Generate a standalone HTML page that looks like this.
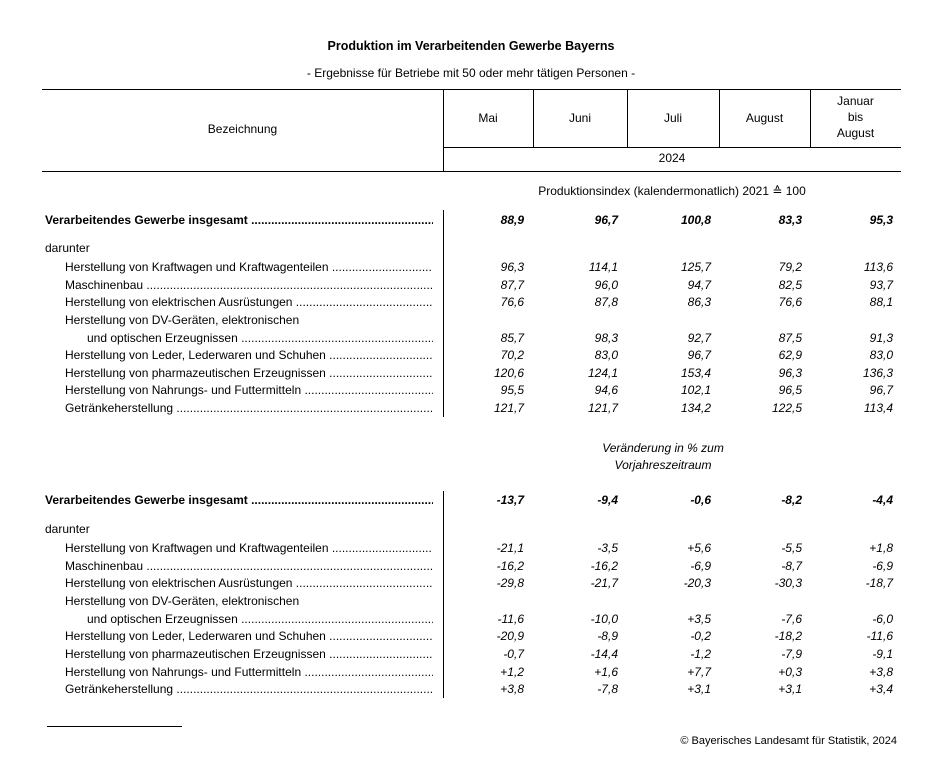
<!DOCTYPE html>
<html><head><meta charset="utf-8"><style>
body{margin:0;width:929px;height:775px;background:#fff;position:relative;font-family:"Liberation Sans",Arial,sans-serif;font-size:12px;color:#000;overflow:hidden}
.a{position:absolute;white-space:nowrap;line-height:16px;height:16px}
.l{position:absolute;background:#000}
.c{text-align:center}
.lab{overflow:hidden}
.n{position:absolute;width:80px;text-align:right;font-style:italic;line-height:16px;height:16px}
.b{font-weight:bold}
</style></head><body>
<div class="a c b" style="left:0;width:942px;top:38px;font-size:12.5px">Produktion im Verarbeitenden Gewerbe Bayerns</div>
<div class="a c" style="left:0;width:942px;top:65px">- Ergebnisse für Betriebe mit 50 oder mehr tätigen Personen -</div>

<div class="l" style="left:42px;top:89px;width:859px;height:1px"></div>
<div class="l" style="left:443px;top:89px;width:1px;height:82px"></div>
<div class="l" style="left:533px;top:89px;width:1px;height:58px"></div>
<div class="l" style="left:627px;top:89px;width:1px;height:58px"></div>
<div class="l" style="left:719px;top:89px;width:1px;height:58px"></div>
<div class="l" style="left:810px;top:89px;width:1px;height:58px"></div>
<div class="l" style="left:443px;top:147px;width:458px;height:1px"></div>
<div class="l" style="left:42px;top:171px;width:859px;height:1px"></div>
<div class="l" style="left:443px;top:210px;width:1px;height:207px"></div>
<div class="l" style="left:443px;top:491px;width:1px;height:207px"></div>
<div class="l" style="left:47px;top:726px;width:135px;height:1px"></div>

<div class="a c" style="left:42px;width:401px;top:121px">Bezeichnung</div>
<div class="a c" style="left:443px;width:90px;top:110px">Mai</div>
<div class="a c" style="left:533px;width:94px;top:110px">Juni</div>
<div class="a c" style="left:627px;width:92px;top:110px">Juli</div>
<div class="a c" style="left:719px;width:91px;top:110px">August</div>
<div class="a c" style="left:810px;width:91px;top:93px">Januar</div>
<div class="a c" style="left:810px;width:91px;top:109px">bis</div>
<div class="a c" style="left:810px;width:91px;top:125px">August</div>
<div class="a c" style="left:443px;width:458px;top:150px">2024</div>
<div class="a c" style="left:443px;width:458px;top:183px">Produktionsindex (kalendermonatlich) 2021 ≙ 100</div>
<div class="a c" style="left:443px;width:440px;top:440px;font-style:italic">Veränderung in % zum</div>
<div class="a c" style="left:443px;width:440px;top:457px;font-style:italic">Vorjahreszeitraum</div>
<div class="a" style="right:32px;top:733px;font-size:11px">© Bayerisches Landesamt für Statistik, 2024</div>

<div id="rows"></div>
<script>
var dots=" ........................................................................................................................................................";
var labels=[
["Verarbeitendes Gewerbe insgesamt",45,1,1],
["darunter",45,0,0],
["Herstellung von Kraftwagen und Kraftwagenteilen",65,0,1],
["Maschinenbau",65,0,1],
["Herstellung von elektrischen Ausrüstungen",65,0,1],
["Herstellung von DV-Geräten, elektronischen",65,0,0],
["und optischen Erzeugnissen",87,0,1],
["Herstellung von Leder, Lederwaren und Schuhen",65,0,1],
["Herstellung von pharmazeutischen Erzeugnissen",65,0,1],
["Herstellung von Nahrungs- und Futtermitteln",65,0,1],
["Getränkeherstellung",65,0,1]];
var y1=[220,248,267,285,302,320,338,355,373,390,408];
var y2=[500,529,548,566,583,601,619,636,654,672,689];
var d1=[["88,9","96,7","100,8","83,3","95,3"],null,["96,3","114,1","125,7","79,2","113,6"],["87,7","96,0","94,7","82,5","93,7"],["76,6","87,8","86,3","76,6","88,1"],null,["85,7","98,3","92,7","87,5","91,3"],["70,2","83,0","96,7","62,9","83,0"],["120,6","124,1","153,4","96,3","136,3"],["95,5","94,6","102,1","96,5","96,7"],["121,7","121,7","134,2","122,5","113,4"]];
var d2=[["-13,7","-9,4","-0,6","-8,2","-4,4"],null,["-21,1","-3,5","+5,6","-5,5","+1,8"],["-16,2","-16,2","-6,9","-8,7","-6,9"],["-29,8","-21,7","-20,3","-30,3","-18,7"],null,["-11,6","-10,0","+3,5","-7,6","-6,0"],["-20,9","-8,9","-0,2","-18,2","-11,6"],["-0,7","-14,4","-1,2","-7,9","-9,1"],["+1,2","+1,6","+7,7","+0,3","+3,8"],["+3,8","-7,8","+3,1","+3,1","+3,4"]];
var rx=[524,618,711,802,893];
var h="";
[[y1,d1],[y2,d2]].forEach(function(blk){
 labels.forEach(function(L,i){
  var y=blk[0][i]-8;
  h+='<div class="a lab'+(L[2]?' b':'')+'" style="left:'+L[1]+'px;top:'+y+'px;width:'+(433-L[1])+'px">'+L[0]+(L[3]?dots:'')+'</div>';
  var d=blk[1][i];
  if(d){d.forEach(function(v,j){h+='<div class="n'+(L[2]?' b':'')+'" style="left:'+(rx[j]-80)+'px;top:'+y+'px">'+v+'</div>';});}
 });
});
document.getElementById("rows").innerHTML=h;
</script>
</body></html>
